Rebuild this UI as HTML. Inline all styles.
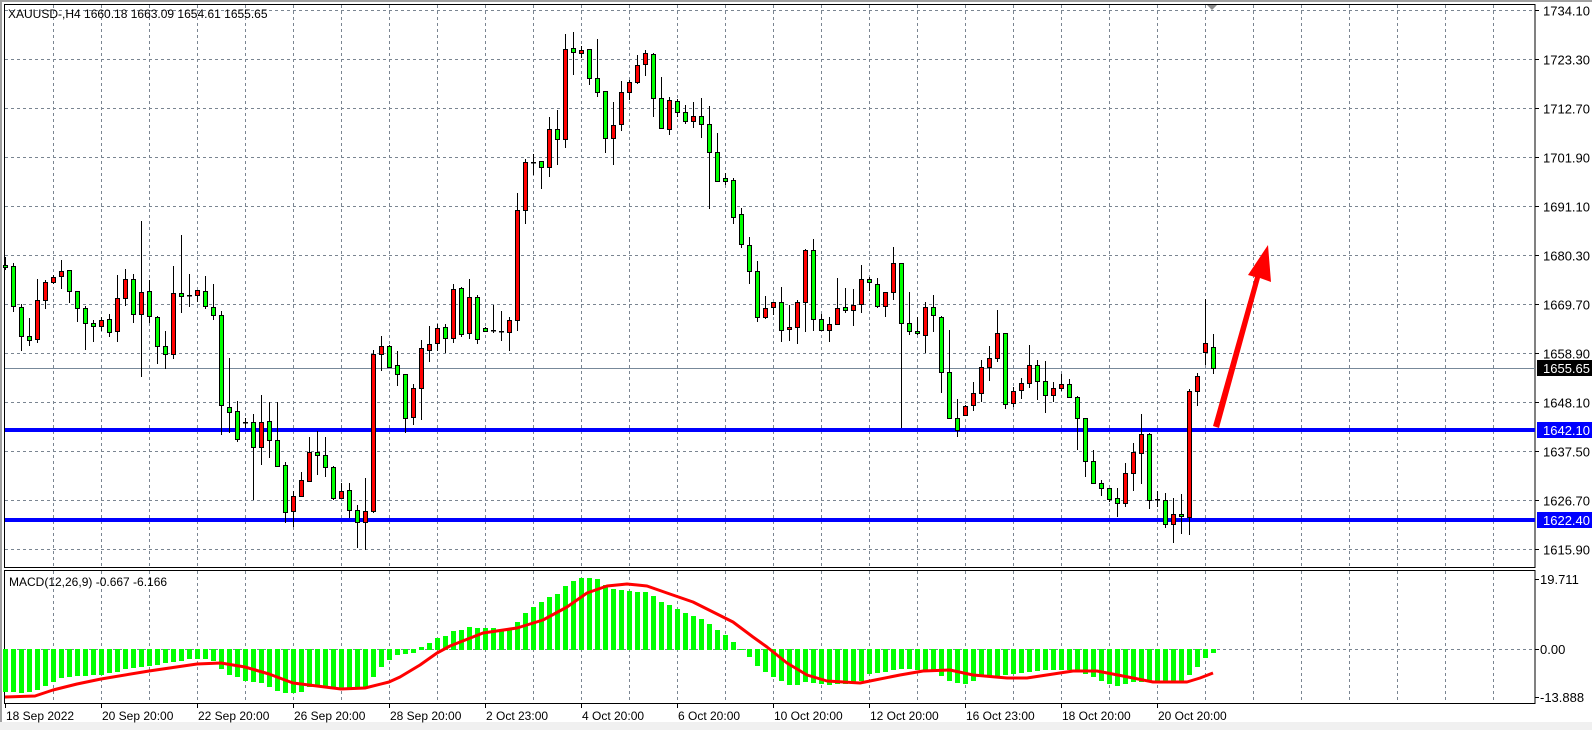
<!DOCTYPE html>
<html><head><meta charset="utf-8">
<style>
html,body{margin:0;padding:0;background:#fff;}
body{width:1592px;height:730px;overflow:hidden;}
svg{display:block;font-family:"Liberation Sans",Tahoma,sans-serif;}
</style></head>
<body>
<svg id="c" width="1592" height="730" viewBox="0 0 1592 730" xmlns="http://www.w3.org/2000/svg">
<rect x="0" y="0" width="1592" height="730" fill="#fff"/>
<rect x="0" y="722" width="1592" height="8" fill="#f0f0f0"/>
<rect x="0" y="0" width="1592" height="2" fill="#a0a0a0"/>
<rect x="0" y="0" width="2" height="722" fill="#a0a0a0"/>
<g id="grid"></g>
<g id="hist"></g>
<g id="lines"></g>
<g id="candles"></g>
<g id="labels" font-size="13" fill="#000"></g>
</svg>
<script>
var NS="http://www.w3.org/2000/svg";
function el(p,t,a,txt){var e=document.createElementNS(NS,t);for(var k in a)e.setAttribute(k,a[k]);if(txt!==undefined)e.textContent=txt;p.appendChild(e);return e;}
var G=document.getElementById('grid'),H=document.getElementById('hist'),L=document.getElementById('lines'),C=document.getElementById('candles'),T=document.getElementById('labels');
var gc="#7a8591";
// horizontal grid main
var prices=["1734.10","1723.30","1712.70","1701.90","1691.10","1680.30","1669.70","1658.90","1648.10","1637.50","1626.70","1615.90"];
for(var j=0;j<12;j++){var y=10+49*j+0.5;
 el(G,'line',{x1:5,y1:y,x2:1535,y2:y,stroke:gc,'stroke-width':1,'stroke-dasharray':'3,3'});
 el(G,'line',{x1:1535,y1:y,x2:1539,y2:y,stroke:'#000','stroke-width':1});
 el(T,'text',{x:1543,y:y+5},prices[j]);
}
// vertical grid
for(var k=1;k<=31;k++){var x=5+48*k+0.5;
 el(G,'line',{x1:x,y1:5,x2:x,y2:567,stroke:gc,'stroke-width':1,'stroke-dasharray':'3,3'});
 el(G,'line',{x1:x,y1:571,x2:x,y2:703,stroke:gc,'stroke-width':1,'stroke-dasharray':'3,3'});
}
// macd zero line
el(G,'line',{x1:5,y1:649.5,x2:1535,y2:649.5,stroke:gc,'stroke-width':1,'stroke-dasharray':'3,3'});
// borders
el(G,'rect',{x:4.5,y:4.5,width:1530.5,height:563,fill:'none',stroke:'#000','stroke-width':1});
el(G,'rect',{x:4.5,y:570.5,width:1530.5,height:133,fill:'none',stroke:'#000','stroke-width':1});
// histogram
var h=[692,692,693,692,690,686,682,678,677,676,676,675,675,673,672,669,668,667,666,665,663,662,661,659,659,659,661,669,675,677,681,682,683,687,691,693,693,692,687,687,688,688,688,688,689,687,677,667,660,655,
654,653,647,643,638,636,631,630,627,628,628,628,630,628,622,613,607,602,597,594,586,581,578,578,579,585,589,590,591,592,592,596,602,605,609,613,616,619,624,630,635,642,649,657,666,672,677,681,685,685,682,683,684,685,684,684,682,681];
var an={107:681,108:674,112:669,116:670,118:681,120:684,122:677,125:675,130:670,134:670,137:681,139:686,141:682,143:682,147:683,148:675,149:667,150:658,151:653};
var ks=Object.keys(an).map(Number).sort(function(a,b){return a-b;});
for(var i=108;i<=151;i++){for(var q=0;q<ks.length-1;q++){if(i>=ks[q]&&i<=ks[q+1]){var t=(i-ks[q])/(ks[q+1]-ks[q]);h[i]=Math.round(an[ks[q]]+(an[ks[q+1]]-an[ks[q]])*t);break;}}}
for(var i=0;i<152;i++){var x=5+8*i,v=h[i];var y1=Math.min(v,649),y2=Math.max(v,650);if(y2-y1<1)y2=y1+1;
 el(H,'rect',{x:x-2,y:y1,width:5,height:y2-y1,fill:'#00ff00'});}
// signal
var sp=[[5,697],[35,696],[53,690],[77,684],[101,679],[149,671],[197,664],[221,663],[245,667],[269,674],[293,683],[317,686],[341,689],[365,688],[389,682],[400,677],[420,665],[437,653],[450,646],[483,633],[517,628],[543,620],[567,607],[587,593],[607,586],[627,584],[647,586],[667,593],[693,602],[713,612],[733,622],[753,637],[767,647],[787,663],[807,675],[827,681],[860,683],[870,681],[900,675],[923,671],[950,670],[973,675],[1007,678],[1027,678],[1073,671],[1097,671],[1123,676],[1153,682],[1187,682],[1200,678],[1213,673]];
el(L,'polyline',{points:sp.map(function(p){return p.join(',');}).join(' '),fill:'none',stroke:'#ff0000','stroke-width':3,'stroke-linejoin':'round'});
// current price line
el(L,'line',{x1:5,y1:368.5,x2:1535,y2:368.5,stroke:'#778899','stroke-width':1});
// candles
var d=[[265,267,257,270,'g'],[266,306,263,312,'g'],[307,336,304,351,'g'],[336,340,318,346,'g'],[300,339,279,343,'r'],[282,300,280,309,'r'],[277,282,275,284,'r'],[271,276,260,289,'r'],[270,291,270,303,'g'],[291,308,291,322,'g'],
[308,323,306,350,'g'],[323,326,320,342,'g'],[320,326,317,331,'r'],[319,332,314,337,'g'],[298,331,275,342,'r'],[279,298,269,306,'r'],[279,314,274,323,'g'],[292,314,221,377,'r'],[291,316,280,323,'g'],[317,346,316,364,'g'],
[346,354,331,369,'g'],[293,354,266,359,'r'],[293,296,235,313,'g'],[295,296,274,307,'d'],[290,295,290,302,'r'],[291,306,276,309,'g'],[307,315,284,320,'g'],[315,405,311,435,'g'],[407,412,358,433,'g'],[411,439,401,442,'g'],
[422,422,418,428,'d'],[422,447,414,500,'g'],[422,447,395,465,'r'],[421,440,402,458,'g'],[440,466,402,467,'g'],[465,512,462,523,'g'],[496,511,491,527,'r'],[480,496,472,496,'r'],[452,481,437,482,'r'],[452,455,431,475,'g'],
[455,467,437,477,'g'],[467,498,466,500,'g'],[491,498,483,498,'r'],[490,510,483,518,'g'],[510,522,505,548,'g'],[511,522,478,550,'r'],[354,511,350,513,'r'],[346,354,336,371,'r'],[346,367,345,367,'g'],[365,374,351,386,'g'],
[374,418,374,433,'g'],[388,417,384,425,'r'],[348,388,340,420,'r'],[344,350,326,362,'r'],[328,343,324,351,'r'],[327,338,324,353,'g'],[289,338,284,343,'r'],[288,334,287,337,'g'],[297,333,279,339,'r'],[297,339,295,344,'g'],
[328,331,327,332,'g'],[330,331,305,333,'d'],[331,331,311,341,'d'],[320,332,317,351,'r'],[210,320,193,331,'r'],[162,210,159,224,'r'],[162,162,154,175,'d'],[161,167,161,189,'g'],[129,167,117,177,'r'],[129,139,110,165,'g'],
[49,139,34,148,'r'],[48,52,32,75,'g'],[50,53,46,58,'r'],[49,78,49,85,'g'],[78,92,39,97,'g'],[91,138,91,153,'g'],[125,138,102,165,'r'],[92,124,81,131,'r'],[82,92,80,100,'r'],[65,82,55,84,'r'],
[53,64,50,76,'r'],[54,98,53,117,'g'],[98,128,77,129,'g'],[100,129,97,135,'r'],[101,112,99,117,'g'],[112,121,105,124,'g'],[116,121,102,128,'r'],[116,124,98,138,'g'],[124,152,106,209,'g'],[152,181,133,181,'g'],
[178,181,173,185,'g'],[180,217,178,224,'g'],[214,244,208,248,'g'],[245,271,237,284,'g'],[271,317,261,322,'g'],[308,317,296,319,'r'],[302,307,302,315,'r'],[302,330,287,342,'g'],[327,329,305,341,'r'],[302,327,300,344,'r'],
[250,302,249,332,'r'],[250,319,239,331,'g'],[319,330,314,330,'g'],[324,330,317,342,'r'],[308,324,278,324,'r'],[307,310,288,313,'g'],[305,310,289,326,'r'],[279,304,265,313,'r'],[279,282,277,291,'g'],[284,306,278,308,'g'],
[292,306,292,317,'r'],[263,292,247,300,'r'],[263,323,263,428,'g'],[323,331,292,335,'g'],[331,333,317,335,'g'],[307,335,302,353,'r'],[307,315,295,332,'g'],[317,372,316,393,'g'],[372,418,330,418,'g'],[418,430,399,437,'g'],
[406,415,405,416,'r'],[393,405,382,411,'r'],[367,393,360,402,'r'],[358,367,346,381,'r'],[333,358,310,362,'r'],[333,404,333,409,'g'],[391,403,387,407,'r'],[383,390,378,399,'r'],[365,383,345,388,'r'],[365,381,360,400,'g'],
[381,395,361,413,'g'],[388,395,382,402,'r'],[384,388,374,391,'r'],[384,397,379,398,'g'],[397,418,396,450,'g'],[418,461,418,477,'g'],[461,483,450,483,'g'],[483,488,480,496,'g'],[488,499,488,502,'g'],[498,503,488,517,'g'],
[473,503,463,507,'r'],[452,473,443,491,'r'],[434,453,414,484,'r'],[434,500,433,509,'g'],[499,500,491,507,'d'],[500,524,493,528,'g'],[514,524,498,543,'r'],[514,516,494,534,'g'],[391,517,389,535,'r'],[376,391,373,406,'r'],
[343,352,299,365,'r'],[347,368,334,374,'g']];
for(var i=0;i<d.length;i++){var c=d[i],x=5+8*i;
 el(C,'line',{x1:x+0.5,y1:c[2],x2:x+0.5,y2:c[3],stroke:'#000','stroke-width':1});
 if(c[4]=='d'||c[1]-c[0]<1){el(C,'rect',{x:x-2,y:c[0],width:5,height:1.5,fill:'#000'});}
 else el(C,'rect',{x:x-1.5,y:c[0]+0.5,width:4,height:c[1]-c[0],fill:c[4]=='r'?'#ff0000':'#00ff00',stroke:'#000','stroke-width':1});
}
// blue support lines
el(L,'rect',{x:5,y:428,width:1530,height:4,fill:'#0000ff'});
el(L,'rect',{x:5,y:518,width:1530,height:4,fill:'#0000ff'});
// arrow
el(L,'polygon',{points:'1213,426 1219,428 1260,278 1271,282 1268,245 1248,275 1255,277',fill:'#ff0000'});
// axis boxes
el(T,'rect',{x:1537,y:422,width:55,height:16,fill:'#0000ff'});
el(T,'text',{x:1543,y:435,fill:'#fff'},'1642.10');
el(T,'rect',{x:1537,y:512,width:55,height:16,fill:'#0000ff'});
el(T,'text',{x:1543,y:525,fill:'#fff'},'1622.40');
el(T,'rect',{x:1537,y:360,width:55,height:16,fill:'#000'});
el(T,'text',{x:1543,y:373,fill:'#fff'},'1655.65');
// macd axis
[[579,'19.711'],[649,'0.00'],[697,'-13.888']].forEach(function(p){
 el(T,'line',{x1:1535,y1:p[0]+0.5,x2:1539,y2:p[0]+0.5,stroke:'#000'});
 el(T,'text',{x:1540,y:p[0]+5},p[1]);});
// header
el(T,'text',{x:8,y:18,'font-size':12},'XAUUSD-,H4  1660.18 1663.09 1654.61 1655.65');
el(T,'text',{x:9,y:586,'font-size':12},'MACD(12,26,9) -0.667 -6.166');
el(T,'polygon',{points:'1207,5 1217,5 1212,10',fill:'#8c8c8c'});
// time axis
var tl=[[5,'18 Sep 2022'],[101,'20 Sep 20:00'],[197,'22 Sep 20:00'],[293,'26 Sep 20:00'],[389,'28 Sep 20:00'],[485,'2 Oct 23:00'],[581,'4 Oct 20:00'],[677,'6 Oct 20:00'],[773,'10 Oct 20:00'],[869,'12 Oct 20:00'],[965,'16 Oct 23:00'],[1061,'18 Oct 20:00'],[1157,'20 Oct 20:00']];
tl.forEach(function(p){el(T,'line',{x1:p[0]+0.5,y1:704,x2:p[0]+0.5,y2:708,stroke:'#000'});
 el(T,'text',{x:p[0]+1,y:720,'font-size':12},p[1]);});
</script>
</body></html>
